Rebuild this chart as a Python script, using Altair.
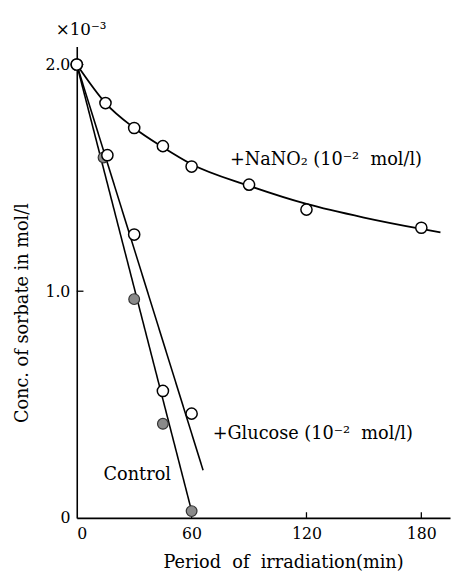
import altair as alt
import pandas as pd

# --- data ---
nano2_t = [0, 15, 30, 45, 60, 90, 120, 180]
nano2_c = [2.0, 1.83, 1.72, 1.64, 1.55, 1.47, 1.36, 1.28]
nano2_curve_t = [0, 15, 30, 45, 60, 90, 120, 150, 180, 190]
nano2_curve_c = [2.0, 1.83, 1.72, 1.635, 1.56, 1.465, 1.385, 1.325, 1.275, 1.26]

glucose_t = [0, 16, 30, 45, 60]
glucose_c = [2.0, 1.60, 1.25, 0.56, 0.46]
glucose_line_t = [0, 66]
glucose_line_c = [2.0, 0.21]

control_t = [14, 30, 45, 60]
control_c = [1.59, 0.965, 0.415, 0.03]
control_line_t = [0, 60]
control_line_c = [2.0, 0.03]

y_ticks = [0, 1.0, 2.0]
x_ticks = [0, 60, 120, 180]

labels_text = ["+NaNO\u2082 (10\u207b\u00b2\u00a0\u00a0mol/l)",
               "+Glucose (10\u207b\u00b2\u00a0\u00a0mol/l)",
               "Control",
               "\u00d710\u207b\u00b3"]
labels_t = [80, 71, 14, -11]
labels_c = [1.58, 0.37, 0.19, 2.15]
labels_size = [18, 18, 18, 17]

FONT = "DejaVu Serif"

xs = alt.Scale(domain=[0, 195], nice=False, zero=False)
ys = alt.Scale(domain=[0, 2.08], nice=False, zero=False)

xax = alt.Axis(values=x_ticks, title="Period\u00a0\u00a0of\u00a0\u00a0irradiation(min)",
               grid=False, ticks=False, labelPadding=8, labelFontSize=16,
               labelFont=FONT, labelColor="black", domainColor="black", domainWidth=1.6,
               titleFont=FONT, titleFontSize=18, titleFontWeight="normal", titleColor="black",
               titleX=210, titleY=46, titleBaseline="middle", titleAlign="center")
yax = alt.Axis(values=y_ticks, title="Conc. of sorbate in mol/l",
               grid=False, ticks=False, labelPadding=7, labelFontSize=16,
               labelFont=FONT, labelColor="black", domainColor="black", domainWidth=1.6,
               labelExpr="datum.value == 0 ? '0' : format(datum.value, '.1f')",
               titleFont=FONT, titleFontSize=18, titleFontWeight="normal", titleColor="black",
               titleAngle=-90, titleX=-55, titleY=271, titleBaseline="middle", titleAlign="center")

curve_df = pd.DataFrame({"t": nano2_curve_t, "c": nano2_curve_c})
gl_df = pd.DataFrame({"t": glucose_line_t, "c": glucose_line_c})
ct_df = pd.DataFrame({"t": control_line_t, "c": control_line_c})

base_x = alt.X("t:Q", scale=xs, axis=xax)
base_y = alt.Y("c:Q", scale=ys, axis=yax)

curve = alt.Chart(curve_df).mark_line(color="black", strokeWidth=1.8, interpolate="monotone").encode(
    x=base_x, y=base_y)
gl_line = alt.Chart(gl_df).mark_line(color="black", strokeWidth=1.6).encode(x="t:Q", y="c:Q")
ct_line = alt.Chart(ct_df).mark_line(color="black", strokeWidth=1.6).encode(x="t:Q", y="c:Q")

# small inward ticks
ytick_df = pd.DataFrame({"c": [1.0, 2.0], "t": [0, 0], "t2": [3.5, 3.5]})
ytick = alt.Chart(ytick_df).mark_rule(color="black", strokeWidth=1.3).encode(
    x="t:Q", x2="t2:Q", y="c:Q")
xtick_df = pd.DataFrame({"t": [60, 120, 180], "c": [0, 0, 0], "c2": [0.025, 0.025, 0.025]})
xtick = alt.Chart(xtick_df).mark_rule(color="black", strokeWidth=1.3).encode(
    x="t:Q", y="c:Q", y2="c2:Q")

ctrl_pts = alt.Chart(pd.DataFrame({"t": control_t, "c": control_c})).mark_point(
    shape="circle", filled=True, size=120, fill="#8a8a8a", stroke="#333", strokeWidth=1.2, opacity=1
).encode(x="t:Q", y="c:Q")
glu_pts = alt.Chart(pd.DataFrame({"t": glucose_t, "c": glucose_c})).mark_point(
    shape="circle", filled=True, size=130, fill="white", stroke="black", strokeWidth=1.5, opacity=1
).encode(x="t:Q", y="c:Q")
na_pts = alt.Chart(pd.DataFrame({"t": nano2_t, "c": nano2_c})).mark_point(
    shape="circle", filled=True, size=130, fill="white", stroke="black", strokeWidth=1.5, opacity=1
).encode(x="t:Q", y="c:Q")

lab_df = pd.DataFrame({"t": labels_t, "c": labels_c, "s": labels_text, "fs": labels_size})
labels = alt.Chart(lab_df).mark_text(align="left", baseline="middle", font=FONT,
                                     color="black", clip=False).encode(
    x="t:Q", y="c:Q", text="s:N", size=alt.Size("fs:Q", scale=None, legend=None))

chart = alt.layer(curve, gl_line, ct_line, ytick, xtick, ctrl_pts, glu_pts, na_pts, labels).properties(
    width=380, height=480,
    autosize=alt.AutoSizeParams(type="none"),
    padding={"left": 70, "top": 34, "right": 2, "bottom": 51},
    background="white",
).configure_view(stroke=None)

chart.save("out.html", embed_options={"renderer": "svg", "actions": False})
